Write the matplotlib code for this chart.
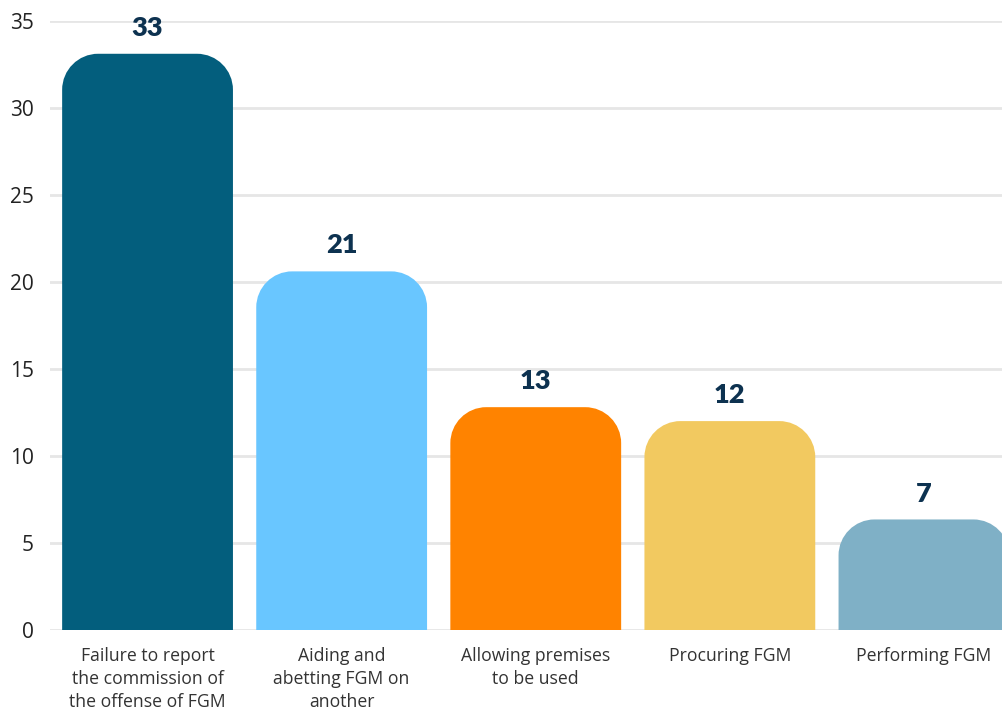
import matplotlib
matplotlib.use("Agg")
import matplotlib.pyplot as plt
from matplotlib.path import Path
from matplotlib.patches import PathPatch

categories = ["Failure to report\nthe commission of\nthe offense of FGM",
              "Aiding and\nabetting FGM on\nanother",
              "Allowing premises\nto be used",
              "Procuring FGM",
              "Performing FGM"]
values = [33.1, 20.6, 12.8, 12.0, 6.35]
value_labels = ["33", "21", "13", "12", "7"]
colors = ["#035e7d", "#69c6ff", "#ff8300", "#f2c960", "#7fb0c6"]
yticks = [0, 5, 10, 15, 20, 25, 30, 35]

plt.rcParams["font.family"] = ["Open Sans", "DejaVu Sans"]

W, H = 1003, 710
fig = plt.figure(figsize=(W / 100, H / 100), dpi=100)
left_px, right_px, bottom_px, top_px = 50.5, 1021.0, 80.0, 689.3
ax = fig.add_axes([left_px / W, bottom_px / H, (right_px - left_px) / W, (top_px - bottom_px) / H])

x = list(range(len(categories)))
bars = ax.bar(x, values, width=0.88, color=colors, zorder=2)
ax.set_xlim(-0.5, len(categories) - 0.5)
ax.set_ylim(0, 35)

# rounded-top bars built from the bar rectangles
px_x = ax.transData.transform((1, 0))[0] - ax.transData.transform((0, 0))[0]
px_y = ax.transData.transform((0, 1))[1] - ax.transData.transform((0, 0))[1]
radius_px = 36
rx = radius_px / px_x
ry = radius_px / px_y
k = 0.5523
for rect, c in zip(bars.patches, colors):
    x0, w, h = rect.get_x(), rect.get_width(), rect.get_height()
    x1 = x0 + w
    rect.set_visible(False)
    verts = [
        (x0, 0), (x0, h - ry),
        (x0, h - ry + k * ry), (x0 + rx - k * rx, h), (x0 + rx, h),
        (x1 - rx, h),
        (x1 - rx + k * rx, h), (x1, h - ry + k * ry), (x1, h - ry),
        (x1, 0), (x0, 0),
    ]
    codes = [Path.MOVETO, Path.LINETO,
             Path.CURVE4, Path.CURVE4, Path.CURVE4,
             Path.LINETO,
             Path.CURVE4, Path.CURVE4, Path.CURVE4,
             Path.LINETO, Path.CLOSEPOLY]
    ax.add_patch(PathPatch(Path(verts, codes), facecolor=c, edgecolor="none", zorder=2))

for xi, v, lab in zip(x, values, value_labels):
    ax.annotate(lab, (xi, v), xytext=(0, 10), textcoords="offset points",
                ha="center", va="bottom", fontsize=19.5, fontweight="heavy",
                color="#0d3250", family=["Lato", "DejaVu Sans"])

ax.set_yticks(yticks)
ax.set_yticklabels([str(t) for t in yticks], fontsize=15, color="#222222")
ax.set_xticks(x)
ax.set_xticklabels(categories, fontsize=12.7, color="#333333", linespacing=1.38, va="top")
ax.tick_params(axis="both", length=0)
ax.tick_params(axis="y", pad=12)
ax.tick_params(axis="x", pad=12)
ax.grid(axis="y", color="#e6e6e6", linewidth=2, zorder=0)
ax.set_axisbelow(True)
for s in ax.spines.values():
    s.set_visible(False)

fig.savefig("out.png", dpi=100)
